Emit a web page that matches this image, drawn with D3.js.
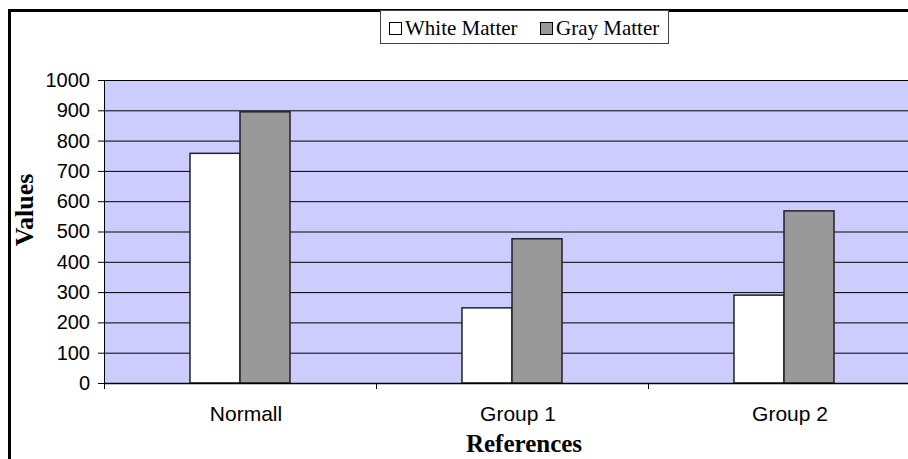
<!DOCTYPE html>
<html><head><meta charset="utf-8">
<script src="https://cdn.jsdelivr.net/npm/d3@7/dist/d3.min.js"></script>
<style>body{margin:0;background:#fff;overflow:hidden}</style>
</head><body>
<svg id="c" width="908" height="459"></svg>
<script>
const categories = ["Normall", "Group 1", "Group 2"];
const seriesNames = ["White Matter", "Gray Matter"];
const whiteMatter = [758, 248, 290];
const grayMatter = [895, 476, 568];
const yTicks = [0,100,200,300,400,500,600,700,800,900,1000];
const colors = ["#ffffff", "#999999"];

(function(){
const svg = d3.select("#c");
const pL = 104, pR = 920, pT = 80, pB = 383;
const sans = "Arial, 'Liberation Sans', sans-serif";
const serif = "'Times New Roman', 'Liberation Serif', serif";

svg.append("rect").attr("x", 9.5).attr("y", 10.5).attr("width", 1000).attr("height", 500)
  .attr("fill", "#fff").attr("stroke", "#000").attr("stroke-width", 3);

const x = d3.scaleBand().domain(categories).range([pL, pR]);
const y = d3.scaleLinear().domain([0, 1000]).range([pB, pT]);
const xs = d3.scaleBand().domain(seriesNames).range([0, 100]);

svg.append("rect").attr("x", pL).attr("y", pT).attr("width", pR-pL).attr("height", pB-pT)
  .attr("fill", "#ccccff");

svg.append("g").selectAll("line").data(yTicks.filter(d=>d>0)).join("line")
  .attr("x1", pL).attr("x2", pR).attr("y1", d=>y(d)+0.5).attr("y2", d=>y(d)+0.5)
  .attr("stroke", "#000").attr("stroke-width", 1);

const data = [whiteMatter, grayMatter];
data.forEach((vals, si) => {
  svg.append("g").selectAll("rect").data(vals).join("rect")
    .attr("x", (d,i) => x(categories[i]) + x.bandwidth()/2 - 50 + xs(seriesNames[si]))
    .attr("y", d => y(d))
    .attr("width", xs.bandwidth())
    .attr("height", d => pB - y(d))
    .attr("fill", colors[si]).attr("stroke", "#222").attr("stroke-width", 1.5);
});

const ya = svg.append("g").attr("transform", `translate(${pL},0)`)
  .call(d3.axisLeft(y).tickValues(yTicks).tickFormat(d3.format("d")).tickSize(6).tickPadding(8));
ya.select(".domain").attr("stroke", "#000");
ya.selectAll("text").attr("font-family", sans).attr("font-size", 20).attr("fill", "#000");

const xa = svg.append("g").attr("transform", `translate(0,${pB})`)
  .call(d3.axisBottom(x).tickSize(0).tickPadding(23));
xa.select(".domain").attr("stroke", "#000").attr("stroke-width", 1.5);
xa.selectAll("text").attr("font-family", sans).attr("font-size", 21).attr("fill", "#000").attr("dx", 6);
svg.append("g").selectAll("line").data(categories).join("line")
  .attr("x1", d => x(d)+0.5).attr("x2", d => x(d)+0.5)
  .attr("y1", pB).attr("y2", pB+6).attr("stroke", "#000");

svg.append("text").attr("x", 524).attr("y", 452).attr("text-anchor", "middle")
  .attr("font-family", serif).attr("font-weight", "bold")
  .attr("font-size", 25).text("References");
svg.append("text").attr("transform", "translate(33,210) rotate(-90)").attr("text-anchor", "middle")
  .attr("font-family", serif).attr("font-weight", "bold")
  .attr("font-size", 26).text("Values");

const lg = svg.append("g");
lg.append("rect").attr("x", 380.5).attr("y", 10.5).attr("width", 288).attr("height", 33)
  .attr("fill", "#fff").attr("stroke", "#444").attr("stroke-width", 1);
const lx = [389, 540];
seriesNames.forEach((n, i) => {
  lg.append("rect").attr("x", lx[i] + 0.5).attr("y", 22.5).attr("width", 12).attr("height", 12)
    .attr("fill", colors[i]).attr("stroke", "#000").attr("stroke-width", 1);
  lg.append("text").attr("x", lx[i] + 16).attr("y", 35)
    .attr("font-family", serif).attr("font-size", 21)
    .text(n);
});
})();
</script>
</body></html>
